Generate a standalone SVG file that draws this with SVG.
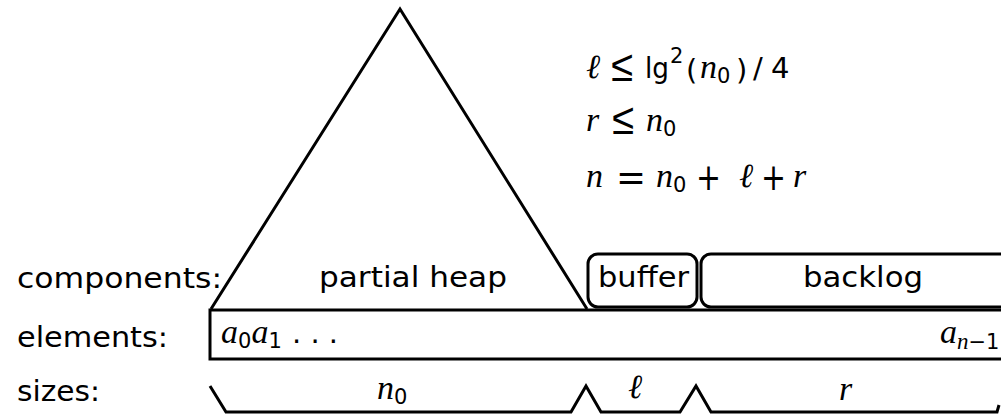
<svg xmlns="http://www.w3.org/2000/svg" width="1001" height="414" viewBox="0 0 1001 414">
<style>
.lbl{font-family:"DejaVu Sans","Liberation Sans",sans-serif;font-size:28px;fill:#000}
.m{font-family:"Liberation Serif","DejaVu Serif",serif;font-style:italic;font-size:34px;fill:#000}
.op{font-family:"DejaVu Sans","Liberation Sans",sans-serif;font-style:normal;font-size:38px;fill:#000}
.le{font-family:"DejaVu Sans","Liberation Sans",sans-serif;font-style:normal;font-weight:200;font-size:44px;fill:#000}
.s{font-family:"DejaVu Sans","Liberation Sans",sans-serif;font-style:normal;font-size:29px;fill:#000}
.sub{font-family:"DejaVu Sans","Liberation Sans",sans-serif;font-style:normal;font-size:21px;fill:#000}
.ln{fill:none;stroke:#000;stroke-width:3;stroke-linejoin:miter}
</style>
<rect width="1001" height="414" fill="#fff"/>
<g id="row-labels">
<text class="lbl" x="17" y="288" textLength="205" lengthAdjust="spacingAndGlyphs">components:</text>
<text class="lbl" x="17" y="347" textLength="151" lengthAdjust="spacingAndGlyphs">elements:</text>
<text class="lbl" x="17" y="401" textLength="83" lengthAdjust="spacingAndGlyphs">sizes:</text>
</g>
<g id="partial-heap">
<path class="ln" d="M211,309 L400,9 L587,309"/>
<text class="lbl" x="319" y="287" textLength="188" lengthAdjust="spacingAndGlyphs">partial heap</text>
</g>
<g id="buffer">
<rect class="ln" x="588" y="254" width="109" height="53" rx="10"/>
<text class="lbl" x="598" y="287" textLength="91" lengthAdjust="spacingAndGlyphs">buffer</text>
</g>
<g id="backlog">
<rect class="ln" x="701" y="254" width="330" height="53" rx="10"/>
<text class="lbl" x="803" y="287" textLength="120" lengthAdjust="spacingAndGlyphs">backlog</text>
</g>
<g id="elements">
<rect class="ln" x="210" y="310" width="820" height="49" stroke-width="3.5"/>
<text class="m" x="221" y="343">a<tspan class="sub" dy="5">0</tspan><tspan dy="-5">a</tspan><tspan class="sub" dy="5">1</tspan><tspan class="s" x="292" dy="-5">. . .</tspan></text>
<text class="m" x="940" y="343">a<tspan font-size="23" dy="6">n</tspan><tspan class="sub">−1</tspan></text>
</g>
<g id="connectors">
<path class="ln" d="M210,386 L226,412 L571,412 L586,386 L601,412 L680,412 L696,386 L711,412 L997,412 L999,405"/>
</g>
<g id="size-labels">
<text class="m" x="377" y="399">n<tspan class="sub" dy="5">0</tspan></text>
<text class="m" x="628" y="398">ℓ</text>
<text class="m" x="839" y="400">r</text>
</g>
<g id="constraints">
<text class="m" x="586" y="78">ℓ</text>
<text class="le" x="611" y="81" textLength="22" lengthAdjust="spacingAndGlyphs">≤</text>
<text class="s" x="645" y="78" textLength="24" lengthAdjust="spacingAndGlyphs">lg</text>
<text class="sub" x="670" y="63" font-size="19">2</text>
<text class="s" x="686" y="80" font-size="33">(</text>
<text class="m" x="700" y="78">n<tspan class="sub" dy="5">0</tspan></text>
<text class="s" x="736" y="80" font-size="33">)</text>
<text class="s" x="753" y="78">/</text>
<text class="s" x="771" y="78">4</text>

<text class="m" x="586" y="131">r</text>
<text class="le" x="612" y="134" textLength="22" lengthAdjust="spacingAndGlyphs">≤</text>
<text class="m" x="646" y="131">n<tspan class="sub" dy="5">0</tspan></text>

<text class="m" x="586" y="187">n</text>
<text class="op" x="616" y="190" textLength="30" lengthAdjust="spacingAndGlyphs">=</text>
<text class="m" x="656" y="187">n<tspan class="sub" dy="5">0</tspan></text>
<text class="op" x="696" y="190" textLength="25" lengthAdjust="spacingAndGlyphs">+</text>
<text class="m" x="739" y="187">ℓ</text>
<text class="op" x="761" y="190" textLength="25" lengthAdjust="spacingAndGlyphs">+</text>
<text class="m" x="793" y="187">r</text>
</g>
</svg>
